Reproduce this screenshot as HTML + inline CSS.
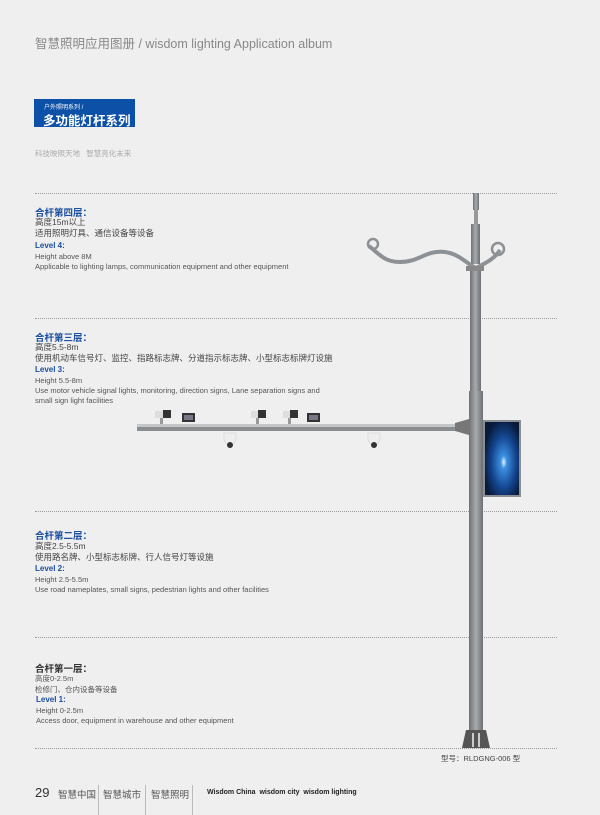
<!DOCTYPE html>
<html><head><meta charset="utf-8"><style>
body{margin:0;width:600px;height:815px;background:#eeefee;position:relative;overflow:hidden;font-family:"Liberation Sans","Noto Sans CJK SC",sans-serif;}
.a{position:absolute;white-space:nowrap;}
.dash{position:absolute;left:35px;width:522px;border-top:1px dotted #999;height:0;}
.h{color:#1c4fa0;font-weight:bold;font-size:9.5px;}
.c{color:#444;font-size:8.5px;}
.e{color:#555;font-size:7.5px;}
.l{color:#1c4fa0;font-weight:bold;font-size:8px;}
</style></head><body>
<div class="a" style="left:35px;top:33px;font-size:12.5px;color:#888;">智慧照明应用图册 / wisdom lighting Application album</div>
<div class="a" style="left:34px;top:99px;width:101px;height:28px;background:#0d50a8;"></div>
<div class="a" style="left:44px;top:102px;font-size:6px;color:#fff;">户外照明系列 /</div>
<div class="a" style="left:43px;top:110px;font-size:12.5px;color:#fff;font-weight:bold;">多功能灯杆系列</div>
<div class="a" style="left:35px;top:148px;font-size:7.5px;color:#aaa;">科技映照天地 &nbsp; 智慧亮化未来</div>

<div class="dash" style="top:193px"></div>
<div class="dash" style="top:318px"></div>
<div class="dash" style="top:511px"></div>
<div class="dash" style="top:637px"></div>
<div class="dash" style="top:748px"></div>

<div class="a h" style="left:35px;top:205px;">合杆第四层：</div>
<div class="a c" style="left:35px;top:216px;">高度15m以上</div>
<div class="a c" style="left:35px;top:227px;">适用照明灯具、通信设备等设备</div>
<div class="a l" style="left:35px;top:241px;">Level 4:</div>
<div class="a e" style="left:35px;top:252px;">Height above 8M</div>
<div class="a e" style="left:35px;top:262px;">Applicable to lighting lamps, communication equipment and other equipment</div>

<div class="a h" style="left:35px;top:330px;">合杆第三层：</div>
<div class="a c" style="left:35px;top:341px;">高度5.5-8m</div>
<div class="a c" style="left:35px;top:352px;">使用机动车信号灯、监控、指路标志牌、分道指示标志牌、小型标志标牌灯设施</div>
<div class="a l" style="left:35px;top:365px;">Level 3:</div>
<div class="a e" style="left:35px;top:376px;">Height 5.5-8m</div>
<div class="a e" style="left:35px;top:386px;">Use motor vehicle signal lights, monitoring, direction signs, Lane separation signs and</div>
<div class="a e" style="left:35px;top:396px;">small sign light facilities</div>

<div class="a h" style="left:35px;top:528px;">合杆第二层：</div>
<div class="a c" style="left:35px;top:540px;">高度2.5-5.5m</div>
<div class="a c" style="left:35px;top:551px;">使用路名牌、小型标志标牌、行人信号灯等设施</div>
<div class="a l" style="left:35px;top:564px;">Level 2:</div>
<div class="a e" style="left:35px;top:575px;">Height 2.5-5.5m</div>
<div class="a e" style="left:35px;top:585px;">Use road nameplates, small signs, pedestrian lights and other facilities</div>

<div class="a h" style="left:35px;top:661px;color:#333;">合杆第一层：</div>
<div class="a e" style="left:35px;top:673px;">高度0-2.5m</div>
<div class="a e" style="left:35px;top:684px;">检修门、仓内设备等设备</div>
<div class="a l" style="left:36px;top:695px;">Level 1:</div>
<div class="a e" style="left:36px;top:706px;">Height 0-2.5m</div>
<div class="a e" style="left:36px;top:716px;">Access door, equipment in warehouse and other equipment</div>

<svg class="a" style="left:0;top:0" width="600" height="815">
<defs>
<linearGradient id="p" x1="0" x2="1"><stop offset="0" stop-color="#6f7276"/><stop offset="0.5" stop-color="#a8abae"/><stop offset="1" stop-color="#6b6e72"/></linearGradient>
<radialGradient id="s" cx="0.55" cy="0.55" r="0.6"><stop offset="0" stop-color="#e6f4ff"/><stop offset="0.15" stop-color="#3c8fe0"/><stop offset="0.6" stop-color="#14458f"/><stop offset="1" stop-color="#071a3a"/></radialGradient>
</defs>
<rect x="473" y="193" width="6" height="17" fill="url(#p)"/>
<rect x="474" y="210" width="4" height="14" fill="#999"/>
<rect x="471" y="224" width="9" height="40" fill="url(#p)"/>
<path d="M369 246 C380 255 385 262 400 262 C420 262 425 250 445 252 C460 254 468 265 476 268 C488 262 495 258 500 250" stroke="#8d9094" stroke-width="4" fill="none"/>
<circle cx="373" cy="244" r="5" fill="none" stroke="#8d9094" stroke-width="2.5"/>
<circle cx="498" cy="249" r="6" fill="none" stroke="#8d9094" stroke-width="2.5"/>
<rect x="466" y="266" width="18" height="5" fill="#888"/>
<rect x="470" y="271" width="11" height="120" fill="url(#p)"/>
<rect x="469" y="391" width="14" height="340" fill="url(#p)"/>
<rect x="137" y="424" width="330" height="3" fill="#c4c6c8"/>
<rect x="137" y="427" width="330" height="4" fill="#8a8d90"/>
<path d="M455 423 L469 419 L469 435 L455 431Z" fill="#777"/>
<rect x="483" y="420" width="38" height="77" fill="#8b8e92"/>
<rect x="485" y="422" width="34" height="73" fill="url(#s)"/>
<path d="M462 748 L466 730 L486 730 L490 748Z" fill="#555"/>
<rect x="472" y="733" width="2" height="14" fill="#ccc"/><rect x="478" y="733" width="2" height="14" fill="#ccc"/>
<g fill="#333">
<rect x="155" y="411" width="12" height="7" fill="#ddd"/><rect x="163" y="410" width="8" height="8"/><rect x="160" y="418" width="3" height="6" fill="#999"/>
<rect x="251" y="411" width="12" height="7" fill="#ddd"/><rect x="258" y="410" width="8" height="8"/><rect x="256" y="418" width="3" height="6" fill="#999"/>
<rect x="283" y="411" width="12" height="7" fill="#ddd"/><rect x="290" y="410" width="8" height="8"/><rect x="288" y="418" width="3" height="6" fill="#999"/>
<rect x="182" y="413" width="13" height="9"/><rect x="184" y="415" width="9" height="5" fill="#778"/>
<rect x="307" y="413" width="13" height="9"/><rect x="309" y="415" width="9" height="5" fill="#778"/>
<path d="M224 433 h12 v6 a6 6 0 0 1 -12 0z" fill="#eee" stroke="#ccc" stroke-width=".5"/><circle cx="230" cy="445" r="3"/>
<path d="M368 433 h12 v6 a6 6 0 0 1 -12 0z" fill="#eee" stroke="#ccc" stroke-width=".5"/><circle cx="374" cy="445" r="3"/>
</g>
</svg>

<div class="a" style="left:441px;top:753px;font-size:7.5px;color:#444;">型号：RLDGNG-006 型</div>
<div class="a" style="left:35px;top:785px;font-size:13px;color:#333;">29</div>
<div class="a" style="left:58px;top:787px;font-size:9.5px;color:#555;">智慧中国</div>
<div class="a" style="left:98px;top:785px;width:1px;height:30px;background:#bbb;"></div>
<div class="a" style="left:103px;top:787px;font-size:9.5px;color:#555;">智慧城市</div>
<div class="a" style="left:145px;top:785px;width:1px;height:30px;background:#bbb;"></div>
<div class="a" style="left:151px;top:787px;font-size:9.5px;color:#555;">智慧照明</div>
<div class="a" style="left:192px;top:785px;width:1px;height:30px;background:#bbb;"></div>
<div class="a" style="left:207px;top:789px;font-size:7px;color:#222;font-weight:bold;">Wisdom China &nbsp;wisdom city &nbsp;wisdom lighting</div>
</body></html>
